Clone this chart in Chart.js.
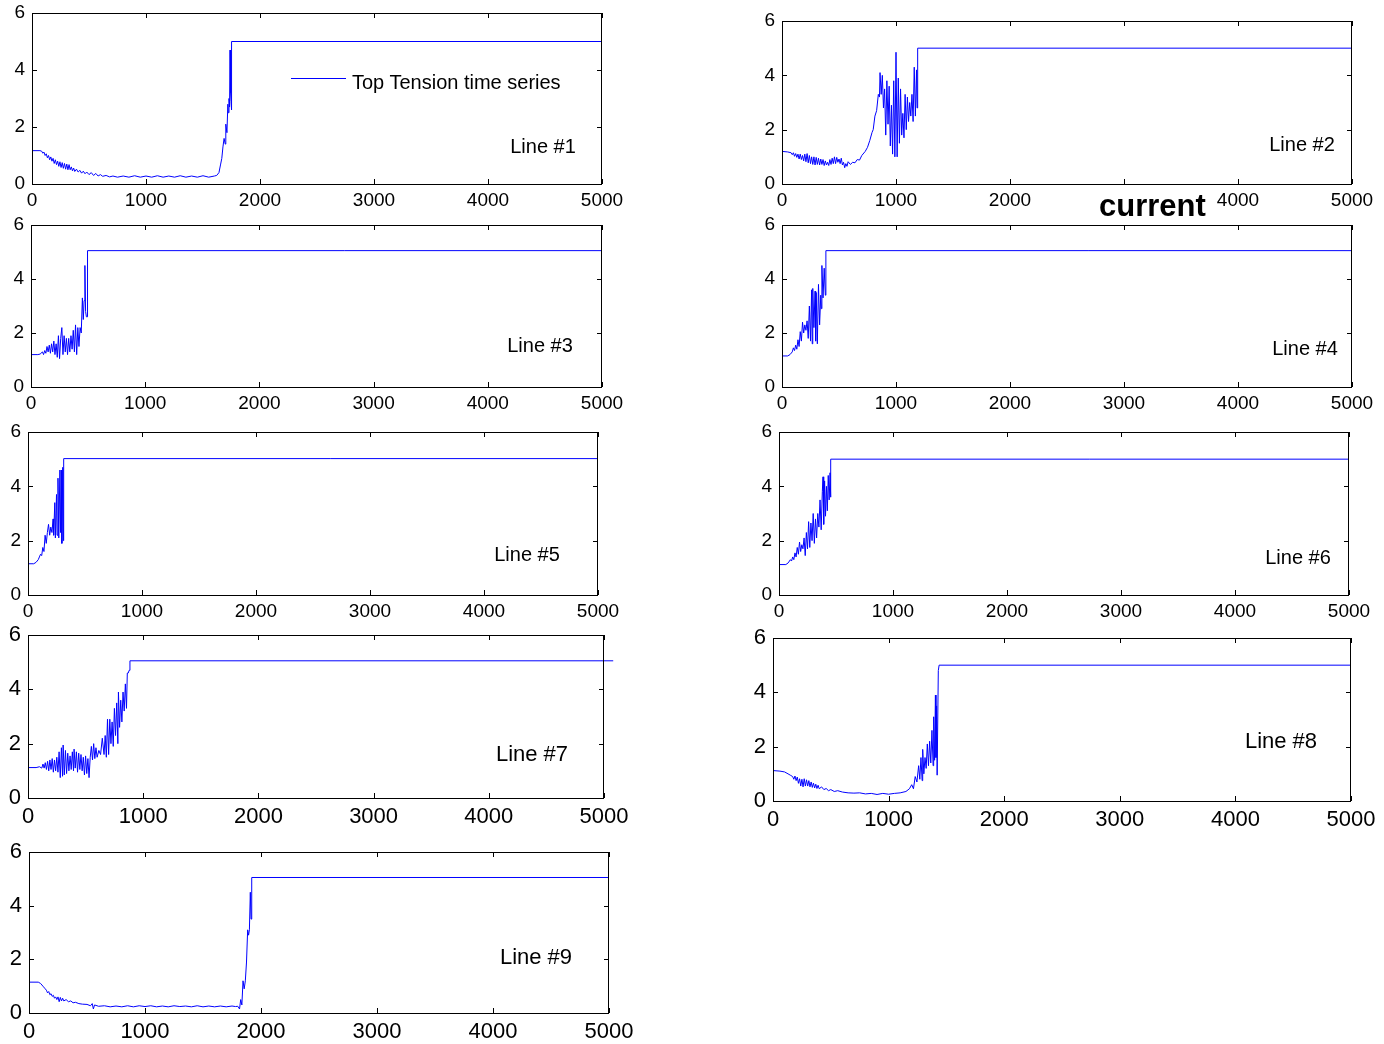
<!DOCTYPE html>
<html>
<head>
<meta charset="utf-8">
<script src="https://cdn.jsdelivr.net/npm/chart.js@4.4.1/dist/chart.umd.min.js"></script>
<style>
  body { margin: 0; background: #fff; width: 1384px; height: 1044px; position: relative; overflow: hidden;
         font-family: 'Liberation Sans', Arial, sans-serif; }
  canvas { position: absolute; }
  .lbl { position: absolute; transform: translate(-50%, -50%); white-space: nowrap; line-height: 1; color: #000; }
</style>
</head>
<body>
<script>
// tick values shared by every panel
const xTicks = [0, 1000, 2000, 3000, 4000, 5000];
const yTicks = [0, 2, 4, 6];

// top tension series: [time step, tension]
const line1 = [[0,1.17],[70,1.17],[85,1.15],[95,1.08],[105,1.12],[115,1.0],[125,1.06],[135,0.92],[145,1.0],[155,0.85],
  [165,0.95],[175,0.8],[185,0.9],[195,0.72],[205,0.85],[215,0.68],[225,0.8],[235,0.62],[245,0.78],[255,0.58],[265,0.75],
  [275,0.55],[285,0.72],[295,0.52],[305,0.7],[315,0.5],[325,0.68],[335,0.5],[345,0.6],[355,0.46],[365,0.56],[375,0.44],
  [390,0.52],[405,0.42],[420,0.48],[435,0.38],[450,0.45],[465,0.36],[480,0.42],[500,0.33],[520,0.4],[540,0.3],[560,0.37],
  [580,0.28],[600,0.33],[620,0.27],[650,0.3],[680,0.25],[710,0.28],[750,0.24],[800,0.28],[850,0.24],[900,0.29],[950,0.24],
  [1000,0.28],[1050,0.24],[1100,0.29],[1150,0.24],[1200,0.28],[1250,0.24],[1300,0.29],[1350,0.24],[1400,0.28],[1450,0.24],
  [1500,0.29],[1550,0.24],[1600,0.28],[1620,0.3],[1640,0.4],[1655,0.7],[1665,0.9],[1675,1.3],[1685,1.6],[1695,1.4],
  [1700,2.1],[1710,1.8],[1718,2.8],[1722,2.5],[1728,3.0],[1733,2.7],[1737,4.7],[1742,3.2],[1746,2.9],[1749,2.6],
  [1752,5.0],[5000,5.0]];

const line2 = [[0,1.2],[50,1.18],[80,1.15],[90,1.08],[100,1.15],[110,1.02],[120,1.12],[130,0.98],[140,1.1],[150,0.92],
  [160,1.1],[170,0.9],[180,1.05],[190,0.85],[200,1.1],[210,0.82],[220,1.12],[230,0.78],[240,1.05],[250,0.75],[260,1.0],
  [270,0.72],[280,1.0],[290,0.7],[300,0.98],[310,0.72],[320,0.95],[330,0.7],[340,0.92],[350,0.72],[360,0.9],[370,0.68],
  [380,0.85],[390,0.7],[400,0.8],[410,0.68],[420,0.9],[430,0.72],[440,0.95],[450,0.75],[460,1.0],[470,0.75],[480,0.98],
  [490,0.8],[500,0.92],[510,0.75],[520,0.95],[530,0.7],[540,0.8],[550,0.6],[560,0.75],[570,0.65],[580,0.82],[600,0.72],
  [620,0.8],[640,0.78],[660,0.9],[680,0.88],[700,1.05],[730,1.2],[750,1.35],[770,1.6],[790,1.9],[800,2.0],[815,2.5],
  [830,2.7],[845,3.3],[855,3.2],[860,4.1],[870,3.3],[880,4.0],[890,2.8],[900,3.5],[910,1.8],[920,3.8],[930,2.2],[940,3.6],
  [950,1.4],[960,2.9],[970,1.1],[980,3.8],[990,1.0],[1000,4.85],[1010,1.0],[1020,3.9],[1030,1.5],[1040,3.5],[1050,1.8],
  [1060,2.6],[1070,1.7],[1080,3.3],[1090,2.0],[1100,3.2],[1110,2.3],[1120,3.0],[1130,2.5],[1140,3.3],[1150,2.3],
  [1160,4.3],[1170,2.5],[1180,4.2],[1185,2.8],[1190,5.0],[5000,5.0]];

const line3 = [[0,1.2],[60,1.2],[80,1.22],[100,1.3],[110,1.2],[120,1.35],[130,1.25],[140,1.5],[150,1.3],[160,1.55],
  [170,1.25],[180,1.6],[190,1.3],[200,1.7],[210,1.2],[220,1.6],[230,1.1],[240,1.9],[250,1.05],[260,1.8],[270,2.2],[280,1.2],
  [290,1.9],[300,1.3],[310,1.8],[320,1.2],[330,1.8],[340,1.3],[350,1.9],[360,1.4],[370,2.1],[380,1.3],[390,2.3],[400,1.2],
  [410,2.2],[420,1.5],[430,2.2],[440,2.0],[450,3.3],[458,2.5],[465,3.2],[472,4.5],[478,2.8],[485,2.6],[492,2.6],[495,5.05],
  [5000,5.05]];

const line4 = [[0,1.15],[50,1.15],[70,1.2],[90,1.3],[100,1.45],[110,1.35],[120,1.55],[130,1.4],[140,1.75],[150,1.5],
  [160,2.05],[170,1.7],[180,2.4],[190,2.0],[200,2.3],[210,2.1],[220,2.45],[230,1.8],[240,3.0],[250,1.7],[260,3.6],[265,1.6],
  [270,3.65],[280,2.2],[290,3.55],[295,1.7],[300,3.5],[310,1.6],[320,3.8],[330,2.3],[340,3.4],[345,2.9],[350,4.5],[360,3.3],
  [370,4.4],[380,3.4],[385,5.05],[5000,5.05]];

const line5 = [[0,1.15],[50,1.15],[70,1.2],[90,1.3],[100,1.4],[110,1.5],[120,1.45],[130,1.75],[140,1.6],[150,2.2],
  [160,1.9],[170,2.3],[180,2.6],[190,2.2],[200,2.5],[210,2.3],[220,2.8],[225,2.2],[235,3.4],[240,2.1],[250,3.7],[255,2.2],
  [263,4.3],[270,2.1],[280,4.6],[285,2.3],[292,4.6],[297,1.9],[305,4.7],[310,2.0],[313,5.02],[5000,5.02]];

const line6 = [[0,1.12],[60,1.12],[80,1.18],[100,1.3],[110,1.25],[120,1.4],[130,1.3],[140,1.55],[150,1.4],[160,1.75],
  [170,1.5],[180,1.95],[190,1.6],[200,1.85],[210,1.7],[220,2.1],[230,1.45],[240,2.3],[250,1.7],[260,2.7],[270,1.75],
  [280,2.65],[290,2.0],[300,3.0],[310,1.9],[320,2.8],[330,2.1],[340,3.0],[350,2.5],[360,3.5],[370,2.4],[380,3.8],[386,4.35],
  [392,2.6],[400,4.2],[408,2.9],[416,4.0],[424,3.1],[432,4.4],[440,3.5],[448,4.5],[452,3.6],[455,5.0],[5000,5.0]];

const line7 = [[0,1.12],[70,1.12],[100,1.15],[120,1.1],[130,1.25],[140,1.1],[150,1.3],[160,1.05],[170,1.35],[180,1.0],
  [190,1.4],[200,1.05],[210,1.45],[220,0.95],[230,1.4],[240,1.0],[250,1.5],[260,0.95],[270,1.7],[280,0.75],[290,1.85],
  [300,0.8],[305,1.95],[315,0.85],[325,1.75],[335,0.9],[345,1.65],[355,1.0],[365,1.55],[375,1.05],[385,1.7],[395,1.0],
  [400,1.8],[410,1.1],[420,1.7],[430,0.95],[440,1.65],[450,1.05],[460,1.6],[470,1.0],[480,1.5],[490,0.85],[500,1.55],
  [510,0.9],[520,1.45],[530,0.75],[540,1.5],[550,1.9],[560,1.4],[570,2.0],[580,1.45],[590,1.85],[600,1.5],[615,1.75],
  [630,1.6],[645,2.2],[660,1.6],[670,2.3],[680,1.5],[690,2.9],[700,1.6],[710,2.9],[720,2.0],[730,2.8],[740,1.9],[750,3.3],
  [760,2.3],[770,3.5],[780,2.0],[785,3.9],[795,2.6],[805,3.6],[815,2.8],[825,3.9],[835,3.2],[845,4.2],[855,3.3],[862,4.6],
  [870,4.6],[878,4.7],[885,5.05],[5080,5.05]];

const line8 = [[0,1.12],[60,1.1],[100,1.07],[130,1.0],[150,0.95],[170,0.9],[180,0.8],[190,0.92],[200,0.75],[210,0.88],
  [220,0.65],[230,0.82],[240,0.55],[250,0.8],[260,0.52],[270,0.82],[280,0.55],[290,0.78],[300,0.55],[310,0.75],[320,0.52],
  [330,0.7],[340,0.5],[350,0.66],[360,0.48],[370,0.62],[380,0.46],[390,0.58],[400,0.45],[420,0.52],[440,0.42],[460,0.46],
  [480,0.38],[500,0.42],[530,0.35],[560,0.38],[600,0.33],[650,0.3],[700,0.29],[750,0.3],[800,0.26],[850,0.28],[900,0.24],
  [950,0.28],[1000,0.25],[1050,0.28],[1100,0.3],[1150,0.35],[1180,0.45],[1200,0.6],[1215,0.45],[1230,0.9],[1245,0.7],
  [1260,1.3],[1270,0.8],[1280,1.6],[1290,0.75],[1295,1.9],[1305,1.0],[1315,1.6],[1325,1.2],[1335,2.1],[1345,1.3],
  [1355,2.2],[1365,1.4],[1375,2.6],[1385,1.3],[1390,3.1],[1398,1.5],[1405,3.9],[1410,1.6],[1415,3.5],[1420,0.95],
  [1430,4.8],[1437,5.0],[5000,5.0]];

const line9 = [[0,1.15],[80,1.15],[100,1.1],[120,1.0],[140,0.9],[150,0.85],[160,0.75],[170,0.8],[180,0.68],[190,0.72],
  [200,0.62],[210,0.66],[220,0.55],[230,0.6],[240,0.5],[250,0.6],[260,0.42],[270,0.58],[280,0.45],[290,0.55],[300,0.45],
  [320,0.5],[340,0.42],[360,0.45],[380,0.38],[400,0.4],[430,0.35],[460,0.33],[500,0.32],[530,0.27],[545,0.35],[555,0.15],
  [565,0.3],[600,0.25],[650,0.27],[700,0.23],[750,0.26],[800,0.23],[850,0.27],[900,0.23],[950,0.27],[1000,0.24],
  [1050,0.27],[1100,0.23],[1150,0.26],[1200,0.23],[1250,0.27],[1300,0.24],[1350,0.26],[1400,0.23],[1450,0.27],
  [1500,0.23],[1550,0.26],[1600,0.23],[1650,0.26],[1700,0.23],[1750,0.26],[1780,0.24],[1800,0.25],[1815,0.15],
  [1825,0.5],[1835,0.3],[1845,1.2],[1855,0.9],[1865,1.2],[1875,1.9],[1885,3.1],[1893,2.9],[1900,3.1],[1908,4.5],
  [1914,3.5],[1918,4.9],[1922,5.05],[5000,5.05]];

// panel boxes on the page (plot area), font size for ticks
const panels = [
  { data: line1, l: 32,  t: 13,  r: 602,  b: 184, fs: 19, pad: 5 },
  { data: line2, l: 782, t: 21,  r: 1352, b: 184, fs: 19, pad: 5, hide: [3000] },
  { data: line3, l: 31,  t: 225, r: 602,  b: 387, fs: 19, pad: 5 },
  { data: line4, l: 782, t: 225, r: 1352, b: 387, fs: 19, pad: 5 },
  { data: line5, l: 28,  t: 432, r: 598,  b: 595, fs: 19, pad: 5 },
  { data: line6, l: 779, t: 432, r: 1349, b: 595, fs: 19, pad: 5 },
  { data: line7, l: 28,  t: 635, r: 604,  b: 798, fs: 22, pad: 6 },
  { data: line8, l: 773, t: 638, r: 1351, b: 801, fs: 22, pad: 6 },
  { data: line9, l: 29,  t: 852, r: 609,  b: 1013, fs: 22, pad: 6 }
];

const notes = [
  { text: 'Line #1', x: 543,  y: 146, fs: 20 },
  { text: 'Line #2', x: 1302, y: 144, fs: 20 },
  { text: 'Line #3', x: 540,  y: 345, fs: 20 },
  { text: 'Line #4', x: 1305, y: 348, fs: 20 },
  { text: 'Line #5', x: 527,  y: 554, fs: 20 },
  { text: 'Line #6', x: 1298, y: 557, fs: 20 },
  { text: 'Line #7', x: 532,  y: 754, fs: 22 },
  { text: 'Line #8', x: 1281, y: 741, fs: 22 },
  { text: 'Line #9', x: 536,  y: 957, fs: 22 }
];

const FONT = "'Liberation Sans', Arial, sans-serif";
const LEFT = 45, TOP = 28, RIGHT = 40, BOTTOM = 38;

// matlab style box with inward ticks on all four sides
const boxTicks = {
  id: 'boxTicks',
  afterDraw(chart) {
    const { ctx, chartArea: a, scales: { x, y } } = chart;
    ctx.save();
    ctx.strokeStyle = '#000';
    ctx.lineWidth = 1;
    ctx.beginPath();
    xTicks.forEach(v => {
      const px = Math.round(x.getPixelForValue(v)) + 0.5;
      ctx.moveTo(px, a.bottom); ctx.lineTo(px, a.bottom - 5);
      ctx.moveTo(px, a.top); ctx.lineTo(px, a.top + 5);
    });
    yTicks.forEach(v => {
      const py = Math.round(y.getPixelForValue(v)) + 0.5;
      ctx.moveTo(a.left, py); ctx.lineTo(a.left + 5, py);
      ctx.moveTo(a.right, py); ctx.lineTo(a.right - 5, py);
    });
    ctx.stroke();
    ctx.strokeRect(a.left + 0.5, a.top + 0.5, a.right - a.left - 1, a.bottom - a.top);
    ctx.restore();
  }
};

panels.forEach(p => {
  const c = document.createElement('canvas');
  const w = (p.r - p.l) + LEFT + RIGHT;
  const h = (p.b - p.t) + TOP + BOTTOM;
  c.width = w; c.height = h;
  c.style.left = (p.l - LEFT) + 'px';
  c.style.top = (p.t - TOP) + 'px';
  c.style.width = w + 'px'; c.style.height = h + 'px';
  document.body.appendChild(c);
  const hide = p.hide || [];

  new Chart(c.getContext('2d'), {
    type: 'line',
    data: {
      datasets: [{
        label: 'Top Tension time series',
        data: p.data.map(d => ({ x: d[0], y: d[1] })),
        borderColor: '#0000ff',
        borderWidth: 1,
        pointRadius: 0,
        tension: 0,
        clip: false
      }]
    },
    options: {
      responsive: false,
      animation: false,
      layout: { padding: { left: 0, top: TOP, right: RIGHT, bottom: 0 } },
      plugins: { legend: { display: false }, tooltip: { enabled: false } },
      scales: {
        x: {
          type: 'linear', min: 0, max: 5000,
          afterBuildTicks: s => { s.ticks = xTicks.map(v => ({ value: v })); },
          afterFit: s => { s.height = BOTTOM; },
          grid: { display: false, drawTicks: false },
          border: { display: false },
          ticks: {
            color: '#000', padding: p.pad, maxRotation: 0, autoSkip: false,
            font: { size: p.fs, family: FONT },
            callback: v => hide.includes(v) ? '' : String(v)
          }
        },
        y: {
          min: 0, max: 6,
          afterBuildTicks: s => { s.ticks = yTicks.map(v => ({ value: v })); },
          afterFit: s => { s.width = LEFT; },
          grid: { display: false, drawTicks: false },
          border: { display: false },
          ticks: { color: '#000', padding: 7, font: { size: p.fs, family: FONT }, callback: v => String(v) }
        }
      }
    },
    plugins: [boxTicks]
  });
});

notes.forEach(n => {
  const d = document.createElement('div');
  d.className = 'lbl';
  d.style.left = n.x + 'px';
  d.style.top = n.y + 'px';
  d.style.fontSize = n.fs + 'px';
  d.textContent = n.text;
  document.body.appendChild(d);
});

// legend of the first panel
const legLine = document.createElement('div');
legLine.style.cssText = 'position:absolute;left:291px;top:78px;width:55px;height:1px;background:#0000ff;';
document.body.appendChild(legLine);
const legText = document.createElement('div');
legText.style.cssText = 'position:absolute;left:352px;top:72px;font-size:20px;line-height:20px;white-space:nowrap;';
legText.textContent = 'Top Tension time series';
document.body.appendChild(legText);

// stray word between the top-right panels
const cur = document.createElement('div');
cur.style.cssText = 'position:absolute;left:1099px;top:190px;font-size:31px;line-height:31px;font-weight:bold;white-space:nowrap;';
cur.textContent = 'current';
document.body.appendChild(cur);
</script>
</body>
</html>
